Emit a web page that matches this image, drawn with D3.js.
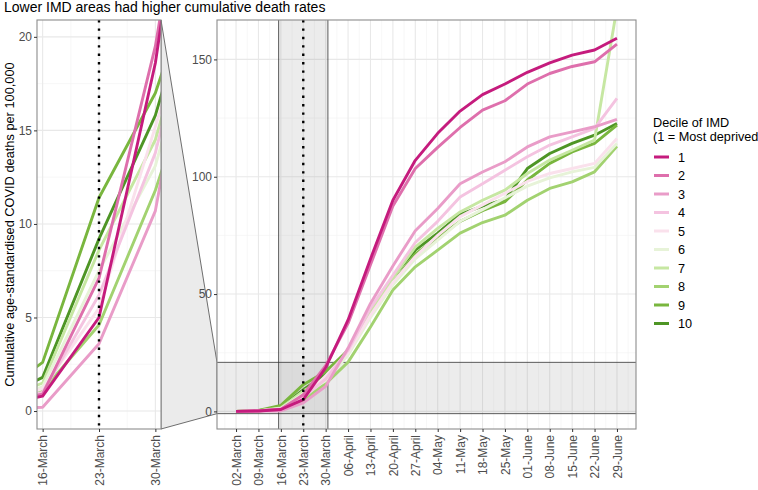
<!DOCTYPE html>
<html>
<head>
<meta charset="utf-8">
<script src="https://cdn.jsdelivr.net/npm/d3@7"></script>
<style>
  body { margin: 0; background: #fff; }
  svg { font-family: Arial, "Liberation Sans", sans-serif; }
  .tick text { fill: #4d4d4d; font-size: 12px; }
  .tick line { stroke: #333; }
</style>
</head>
<body>
<div id="chart"></div>
<script>
// weekly dates (Mondays), 2020
var weeks = ["2020-03-02", "2020-03-09", "2020-03-16", "2020-03-23", "2020-03-30", "2020-04-06",
    "2020-04-13", "2020-04-20", "2020-04-27", "2020-05-04", "2020-05-11", "2020-05-18",
    "2020-05-25", "2020-06-01", "2020-06-08", "2020-06-15", "2020-06-22", "2020-06-29"];

var deciles = ["1", "2", "3", "4", "5", "6", "7", "8", "9", "10"];

// cumulative age-standardised deaths per 100,000, by decile
var decile1 = [0, 0.2, 0.8, 5.0, 18.6, 39, 65, 90, 107, 118.5, 128, 135, 139.5, 144.5, 148.5, 151.8, 154, 159];
var decile2 = [0, 0.3, 0.9, 7.1, 19.5, 37.5, 62.5, 87.5, 103.5, 112.5, 121, 128.4, 132.4, 139.5, 144, 147, 149, 156.5];
var decile3 = [0, 0.1, 0.2, 3.6, 10.7, 27, 46, 62, 77, 86.5, 97, 102, 106.4, 112.7, 117, 119.1, 121.3, 124.4];
var decile4 = [0, 0.2, 1.0, 6.2, 13.8, 26, 44, 58, 72, 81, 91.4, 97, 102.8, 108.5, 113.5, 117, 120.6, 133.4];
var decile5 = [0, 0.2, 1.2, 5.5, 15.2, 25, 41, 55, 66, 75, 83, 88, 93, 98, 101.4, 103.5, 105.7, 116.3];
var decile6 = [0, 0.2, 1.3, 7.5, 13.1, 24, 40, 54, 65, 73, 81, 86, 91, 96, 99.5, 102.1, 104, 114.2];
var decile7 = [0, 0.3, 1.5, 8.6, 14.5, 25, 42, 57, 70, 78, 85, 90, 94.3, 101.4, 107.1, 111.3, 115.6, 172];
var decile8 = [0, 0.2, 1.1, 4.6, 11.8, 21, 36, 51.7, 61.6, 68.7, 76, 80.5, 83.6, 90, 95, 97.8, 102.1, 113];
var decile9 = [0, 0.4, 2.6, 11.4, 17.0, 26, 41, 55, 67, 74, 81, 85.5, 89.4, 98.6, 105.7, 110.6, 114.2, 122];
var decile10 = [0, 0.3, 1.8, 9.2, 15.8, 26.1, 42, 57.4, 68.7, 76, 84, 87.5, 90.3, 103.5, 109.9, 114.2, 117.7, 122.7];

var values = [decile1, decile2, decile3, decile4, decile5, decile6, decile7, decile8, decile9, decile10];

// zoomed window shown in the left panel
var zoomDates = ["2020-03-16", "2020-03-30"];
var zoomTicks = [0, 5, 10, 15, 20];
var mainTicks = [0, 50, 100, 150];
var lockdown = "2020-03-23";

var colors = ["#c51b7d", "#de6fac", "#e99cc8", "#f4c3e0", "#fae1ec",
    "#e7f3d8", "#c6e7a2", "#a2d270", "#79b63e", "#4e9525"];

var parse = d3.timeParse("%Y-%m-%d");
var fmt = d3.timeFormat("%d-%B");
var dates = weeks.map(parse);
var DAY = 864e5;

var series = deciles.map(function (d, i) {
    return {
        decile: d,
        color: colors[i],
        points: dates.map(function (t, j) { return { date: t, value: values[i][j] }; })
    };
});

var W = 758, H = 490;
var pTop = 20, pBottom = 429;
var left1 = 37, right1 = 161; // zoom panel
var left2 = 217, right2 = 636; // main panel

var svg = d3.select("#chart").append("svg")
    .attr("width", W)
    .attr("height", H);

// scales
var z0 = parse(zoomDates[0]), z1 = parse(zoomDates[1]);
var zpad = (z1 - z0) * 0.05;
var xZ = d3.scaleTime()
    .domain([new Date(+z0 - zpad), new Date(+z1 + zpad)])
    .range([left1, right1]);
var yZ = d3.scaleLinear().domain([-0.96, 20.9]).range([pBottom, pTop]);

var mpad = (dates[dates.length - 1] - dates[0]) * 0.05;
var xM = d3.scaleTime()
    .domain([new Date(+dates[0] - mpad), new Date(+dates[dates.length - 1] + mpad)])
    .range([left2, right2]);
var yM = d3.scaleLinear().domain([-7.5, 166.8]).range([pBottom, pTop]);

// clip paths
var defs = svg.append("defs");
defs.append("clipPath").attr("id", "clipZ").append("rect")
    .attr("x", left1).attr("y", pTop).attr("width", right1 - left1).attr("height", pBottom - pTop);
defs.append("clipPath").attr("id", "clipM").append("rect")
    .attr("x", left2).attr("y", pTop).attr("width", right2 - left2).attr("height", pBottom - pTop);

// connector between the panels
var bx0 = xM(xZ.domain()[0]), bx1 = xM(xZ.domain()[1]);
var by0 = yM(yZ.domain()[1]), by1 = yM(yZ.domain()[0]);
svg.append("polygon")
    .attr("points", [[right1, pTop], [left2, by0], [left2, by1], [right1, pBottom]].join(" "))
    .attr("fill", "#ebebeb")
    .attr("stroke", "#333")
    .attr("stroke-width", 0.7);

function grid(g, x, y, xs, xsMinor, ys, ysMinor, x0, x1) {
    g.selectAll(".gxm").data(xsMinor).enter().append("line")
        .attr("x1", function (d) { return x(d); }).attr("x2", function (d) { return x(d); })
        .attr("y1", pTop).attr("y2", pBottom)
        .attr("stroke", "#f2f2f2").attr("stroke-width", 0.6);
    g.selectAll(".gym").data(ysMinor).enter().append("line")
        .attr("x1", x0).attr("x2", x1)
        .attr("y1", function (d) { return y(d); }).attr("y2", function (d) { return y(d); })
        .attr("stroke", "#f2f2f2").attr("stroke-width", 0.6);
    g.selectAll(".gx").data(xs).enter().append("line")
        .attr("x1", function (d) { return x(d); }).attr("x2", function (d) { return x(d); })
        .attr("y1", pTop).attr("y2", pBottom)
        .attr("stroke", "#e8e8e8").attr("stroke-width", 1.1);
    g.selectAll(".gy").data(ys).enter().append("line")
        .attr("x1", x0).attr("x2", x1)
        .attr("y1", function (d) { return y(d); }).attr("y2", function (d) { return y(d); })
        .attr("stroke", "#e8e8e8").attr("stroke-width", 1.1);
}

function midpoints(ds) {
    var out = [];
    for (var i = 0; i < ds.length - 1; i++) out.push(new Date((+ds[i] + +ds[i + 1]) / 2));
    out.unshift(new Date(+ds[0] - 3.5 * DAY));
    out.push(new Date(+ds[ds.length - 1] + 3.5 * DAY));
    return out;
}

var zoomWeekDates = dates.filter(function (d) { return d >= z0 && d <= z1; });

// panel backgrounds
svg.append("rect").attr("x", left1).attr("y", pTop).attr("width", right1 - left1).attr("height", pBottom - pTop).attr("fill", "#fff");
svg.append("rect").attr("x", left2).attr("y", pTop).attr("width", right2 - left2).attr("height", pBottom - pTop).attr("fill", "#fff");

var gZ = svg.append("g").attr("clip-path", "url(#clipZ)");
var gM = svg.append("g").attr("clip-path", "url(#clipM)");

grid(gZ, xZ, yZ, zoomWeekDates, midpoints(zoomWeekDates), zoomTicks, [2.5, 7.5, 12.5, 17.5], left1, right1);
grid(gM, xM, yM, dates, midpoints(dates), mainTicks, [25, 75, 125], left2, right2);

// zoom highlight in the main panel
gM.append("rect")
    .attr("x", bx0).attr("y", pTop).attr("width", bx1 - bx0).attr("height", pBottom - pTop)
    .attr("fill", "#7f7f7f").attr("fill-opacity", 0.15);
gM.append("rect")
    .attr("x", left2).attr("y", by0).attr("width", right2 - left2).attr("height", by1 - by0)
    .attr("fill", "#7f7f7f").attr("fill-opacity", 0.15);
[bx0, bx1].forEach(function (x) {
    gM.append("line").attr("x1", x).attr("x2", x).attr("y1", pTop).attr("y2", pBottom)
        .attr("stroke", "#333").attr("stroke-width", 0.8);
});
[by0, by1].forEach(function (y) {
    gM.append("line").attr("x1", left2).attr("x2", right2).attr("y1", y).attr("y2", y)
        .attr("stroke", "#333").attr("stroke-width", 0.8);
});

// lines
function drawLines(g, x, y) {
    var line = d3.line()
        .x(function (d) { return x(d.date); })
        .y(function (d) { return y(d.value); });
    g.selectAll(".series").data(series.slice().reverse()).enter().append("path")
        .attr("class", "series")
        .attr("d", function (d) { return line(d.points); })
        .attr("fill", "none")
        .attr("stroke", function (d) { return d.color; })
        .attr("stroke-width", 2.9)
        .attr("stroke-linejoin", "round");
}
drawLines(gZ, xZ, yZ);
drawLines(gM, xM, yM);

// lockdown marker
var ld = parse(lockdown);
[[gZ, xZ], [gM, xM]].forEach(function (p) {
    p[0].append("line")
        .attr("x1", p[1](ld)).attr("x2", p[1](ld))
        .attr("y1", pTop).attr("y2", pBottom)
        .attr("stroke", "#000")
        .attr("stroke-width", 2.4)
        .attr("stroke-dasharray", "2.4,6");
});

// panel borders
svg.append("rect").attr("x", left1).attr("y", pTop).attr("width", right1 - left1).attr("height", pBottom - pTop)
    .attr("fill", "none").attr("stroke", "#8c8c8c").attr("stroke-width", 1.1);
svg.append("rect").attr("x", left2).attr("y", pTop).attr("width", right2 - left2).attr("height", pBottom - pTop)
    .attr("fill", "none").attr("stroke", "#8c8c8c").attr("stroke-width", 1.1);

// axes
function styleX(g) {
    g.select(".domain").remove();
    g.selectAll(".tick text")
        .attr("transform", "rotate(-90)")
        .attr("text-anchor", "end")
        .attr("x", -6)
        .attr("y", 0)
        .attr("dy", "0.35em");
}
svg.append("g").attr("transform", "translate(0," + pBottom + ")")
    .call(d3.axisBottom(xZ).tickValues(zoomWeekDates).tickFormat(fmt).tickSize(3).tickPadding(2))
    .call(styleX);
svg.append("g").attr("transform", "translate(0," + pBottom + ")")
    .call(d3.axisBottom(xM).tickValues(dates).tickFormat(fmt).tickSize(3).tickPadding(2))
    .call(styleX);

svg.append("g").attr("transform", "translate(" + left1 + ",0)")
    .call(d3.axisLeft(yZ).tickValues(zoomTicks).tickSize(3).tickPadding(2))
    .call(function (g) { g.select(".domain").remove(); });
svg.append("g").attr("transform", "translate(" + left2 + ",0)")
    .call(d3.axisLeft(yM).tickValues(mainTicks).tickSize(3).tickPadding(2))
    .call(function (g) { g.select(".domain").remove(); });

// titles
svg.append("text")
    .attr("x", 4).attr("y", 12)
    .attr("font-size", 14)
    .attr("fill", "#000")
    .text("Lower IMD areas had higher cumulative death rates");

svg.append("text")
    .attr("transform", "translate(14," + ((pTop + pBottom) / 2) + ") rotate(-90)")
    .attr("text-anchor", "middle")
    .attr("font-size", 12.8)
    .attr("fill", "#000")
    .text("Cumulative age-standardised COVID deaths per 100,000");

// legend
var lg = svg.append("g").attr("transform", "translate(653,0)");
lg.append("text").attr("x", 0).attr("y", 127).attr("font-size", 12.7).text("Decile of IMD");
lg.append("text").attr("x", 0).attr("y", 141).attr("font-size", 12.7).text("(1 = Most deprived");
var items = lg.selectAll(".item").data(series).enter().append("g")
    .attr("transform", function (d, i) { return "translate(0," + (157 + i * 18.5) + ")"; });
items.append("line")
    .attr("x1", 1).attr("x2", 16)
    .attr("stroke", function (d) { return d.color; })
    .attr("stroke-width", 3);
items.append("text")
    .attr("x", 25).attr("dy", "0.36em")
    .attr("font-size", 12.7)
    .text(function (d) { return d.decile; });
</script>
</body>
</html>
